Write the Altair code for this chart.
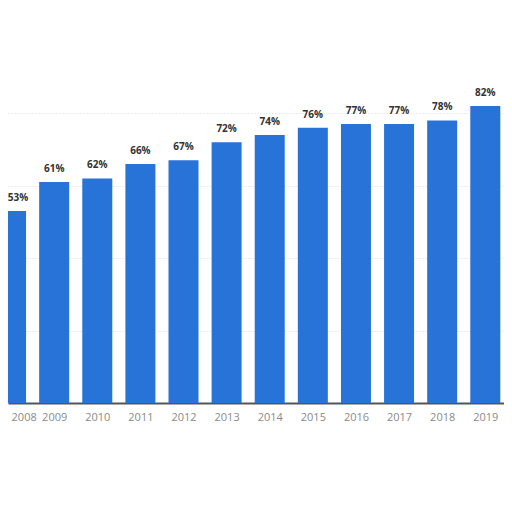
import altair as alt
import pandas as pd

years = [2008, 2009, 2010, 2011, 2012, 2013, 2014, 2015, 2016, 2017, 2018, 2019]
values = [53, 61, 62, 66, 67, 72, 74, 76, 77, 77, 78, 82]
labels = [f"{v}%" for v in values]

df = pd.DataFrame({"year": years, "value": values, "label": labels})

xscale = alt.Scale(domain=[2008.045, 2019.318], nice=False, zero=False)
yscale = alt.Scale(domain=[0, 90], nice=False)

base = alt.Chart(df)

bars = base.mark_bar(size=30, color="#2873d8", clip=True).encode(
    x=alt.X("year:Q", scale=xscale,
            axis=alt.Axis(title=None, values=years, format="d", ticks=False,
                          grid=False, labelColor="#8a8a8a", labelFontSize=11,
                          labelPadding=8, domainColor="#555555", domainWidth=2,
                          labelFont="Open Sans",
                          labelAlign={"condition": {"test": "datum.value == 2008",
                                                    "value": "left"},
                                      "value": "center"})),
    y=alt.Y("value:Q", scale=yscale,
            axis=alt.Axis(title=None, labels=False, ticks=False, domain=False,
                          values=[0, 20, 40, 60, 80], gridColor="#d8d8d8",
                          gridDash=[1, 2], gridWidth=1)),
)

text_style = dict(dy=-13, fontSize=10, fontWeight="bold", color="#333333",
                  font="Open Sans")

text = base.transform_filter(alt.datum.year > 2008).mark_text(**text_style).encode(
    x=alt.X("year:Q", scale=xscale),
    y=alt.Y("value:Q", scale=yscale),
    text="label:N",
)

text_first = base.transform_filter(alt.datum.year == 2008).mark_text(
    dx=7, **text_style).encode(
    x=alt.X("year:Q", scale=xscale),
    y=alt.Y("value:Q", scale=yscale),
    text="label:N",
)

chart = alt.layer(bars, text, text_first).properties(
    width=496, height=326,
    background="white",
    autosize=alt.AutoSizeParams(type="none"),
    padding={"left": 0, "top": 69, "right": 0, "bottom": 80},
).configure_view(stroke=None, strokeWidth=0)

chart.save("out.html", embed_options={"renderer": "svg", "actions": False})
